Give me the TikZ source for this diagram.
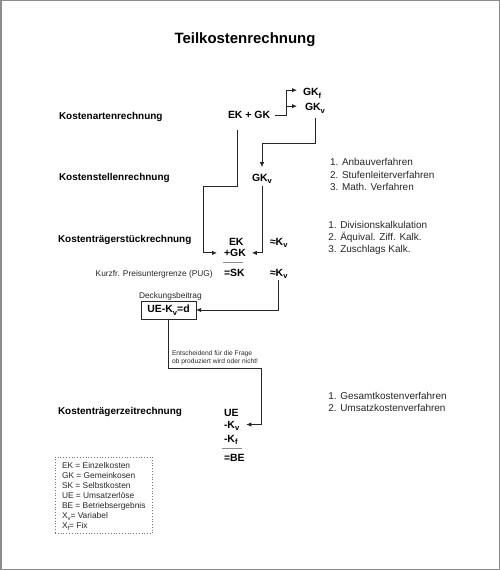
\documentclass[tikz,border=0pt]{standalone}
\usepackage{fontspec}
\setmainfont{Liberation Sans}
\usetikzlibrary{arrows.meta}
\newcommand\lsub[1]{\raisebox{-2.6bp}{\fontsize{7.6}{8}\selectfont #1}}
\newcommand\legsub[1]{\raisebox{-2bp}{\fontsize{6}{7}\selectfont #1}}
\begin{document}
\begin{tikzpicture}[x=1bp,y=-1bp,
  every node/.style={inner sep=0pt, outer sep=0pt, text=black},
  ttl/.style={font=\bfseries\fontsize{15}{18}\selectfont, anchor=base},
  rowlab/.style={font=\bfseries\fontsize{10}{12}\selectfont, anchor=base west},
  ctr/.style={font=\bfseries\fontsize{10.5}{12}\selectfont, anchor=base west},
  lst/.style={font=\fontsize{10}{12}\selectfont, anchor=base west, text=black!85},
  note/.style={font=\fontsize{8.4}{10}\selectfont, anchor=base west, text=black!85},
  tinynote/.style={font=\fontsize{6.7}{8}\selectfont, anchor=base west, text=black!85},
  conn/.style={line width=0.9bp, draw=black!85},
  arr/.style={conn, -{Latex[length=5bp,width=4.5bp]}},
  rule/.style={line width=0.8bp, draw=black!45},
]
\useasboundingbox (0,0) rectangle (500,570);
\draw[black!45, line width=1.5bp] (0.75,0.75) rectangle (499.25,569.25);

% title and row labels
\node[ttl] (title) at (245,43.5) {Teilkostenrechnung};
\node[rowlab] (r1) at (59,119.5) {Kostenartenrechnung};
\node[rowlab] (r2) at (59,180.3) {Kostenstellenrechnung};
\node[rowlab] (r3) at (58,242.7) {Kostenträgerstückrechnung};
\node[rowlab] (r4) at (58,414.3) {Kostenträgerzeitrechnung};

% centre column
\node[ctr] (ekgk) at (228,119) {EK + GK};
\node[ctr] (gkf) at (303,95.5) {GK\lsub{f}};
\node[ctr] (gkv1) at (305,111) {GK\lsub{v}};
\node[ctr] (gkv2) at (252,181) {GK\lsub{v}};
\node[ctr] (ek) at (229,245.5) {EK};
\node[ctr] (plusgk) at (224,256.5) {+GK};
\node[ctr] (sk) at (224,276) {=SK};
\node[ctr] (kv1) at (270,245.3) {≈K\lsub{v}};
\node[ctr] (kv2) at (270,276) {≈K\lsub{v}};
\node[note] (pug) at (95.7,276.7) {Kurzfr. Preisuntergrenze (PUG)};
\node[note] (db) at (139,298.3) {Deckungsbeitrag};
\node[draw=black!85, line width=0.9bp, minimum width=55bp, minimum height=18bp,
      font=\bfseries\fontsize{10.5}{12}\selectfont] (box) at (168.5,310) {UE-K\lsub{v}=d};
\node[tinynote] (ent1) at (172,355) {Entscheidend für die Frage};
\node[tinynote] (ent2) at (172,363) {ob produziert wird oder nicht!};
\node[ctr] (ue) at (224,416.7) {UE};
\node[ctr] (mkv) at (224,428.3) {-K\lsub{v}};
\node[ctr] (mkf) at (224,442.3) {-K\lsub{f}};
\node[ctr] (be) at (224,461.7) {=BE};

\draw[rule] (223,262) -- (243,262);
\draw[rule] (222,448) -- (242,448);

% right lists
\node[lst] (a1) at (330,166) {1. Anbauverfahren};
\node[lst] (a2) at (330,178) {2. Stufenleiterverfahren};
\node[lst] (a3) at (330,190) {3. Math. Verfahren};
\node[lst] (b1) at (328.3,228.3) {1. Divisionskalkulation};
\node[lst] (b2) at (328.3,240.3) {2. Äquival. Ziff. Kalk.};
\node[lst] (b3) at (328.3,252.3) {3. Zuschlags Kalk.};
\node[lst] (c1) at (328.3,399.3) {1. Gesamtkostenverfahren};
\node[lst] (c2) at (328.3,411.3) {2. Umsatzkostenverfahren};

% legend
\node[draw=black!55, dotted, line width=0.8bp, minimum width=97.5bp, minimum height=76.5bp,
      anchor=north west] (leg) at (55,457) {};
\node[note] (l1) at (62,468) {EK = Einzelkosten};
\node[note] (l2) at (62,478) {GK = Gemeinkosen};
\node[note] (l3) at (62,488) {SK = Selbstkosten};
\node[note] (l4) at (62,498) {UE = Umsatzerlöse};
\node[note] (l5) at (62,508) {BE = Betriebsergebnis};
\node[note] (l6) at (62,518) {X\legsub{v}= Variabel};
\node[note] (l7) at (62,528) {X\legsub{f}= Fix};

% connectors
\coordinate (gkvtip) at ([shift={(-8,-2.5)}]gkv1.west);
\draw[arr] ([xshift=4.5bp]ekgk.east) -- ++(12,0) coordinate (split) |- ([shift={(-6,-3)}]gkf.west);
\draw[arr] (split |- gkvtip) -- (gkvtip);
\draw[arr] ([shift={(0,4.5)}]gkv1.south) -- ++(0,25) -| ([shift={(0,-6.5)}]gkv2.north);
\draw[arr] ([shift={(-12,11)}]ekgk.south) -- ++(0,56) -- ++(-34,0) |- ([shift={(-7,0)}]plusgk.west);
\draw[arr] ([shift={(0,2)}]gkv2.south) |- ([shift={(6,0)}]plusgk.east);
\draw[arr] ([shift={(0,1.5)}]kv2.south) |- (box.east);
\draw[arr] (box.south) -- ++(0,49) -- ++(92.5,0) |- ([shift={(7,-1.5)}]mkv.east);
\end{tikzpicture}
\end{document}
